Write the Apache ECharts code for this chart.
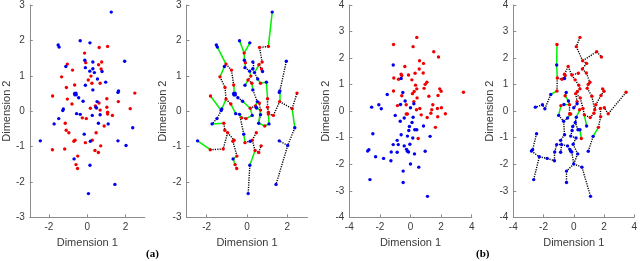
<!DOCTYPE html>
<html><head><meta charset="utf-8">
<script src="https://cdn.jsdelivr.net/npm/echarts@6/dist/echarts.min.js"></script>
<style>html,body{margin:0;padding:0;background:#fff}#c{width:640px;height:261px}</style>
</head><body><div id="c"></div>
<script>
// ---------- dataset (a) ----------
const blueA = [
 [1.25,2.80],[-1.52,1.87],[-1.47,1.81],[-0.37,1.99],[0.14,1.93],[1.95,1.41],[-0.13,1.44],[0.29,1.39],
 [-1.12,1.26],[-0.10,1.23],[0.29,1.20],[0.13,1.13],[0.77,1.12],[0.37,1.09],[0.53,0.91],[0.96,0.82],
 [-0.10,0.73],[0.29,0.60],[1.60,0.53],[1.63,0.57],[-0.66,0.50],[-0.59,0.51],[-0.58,0.46],[-0.65,0.46],
 [-0.45,0.38],[-0.22,0.28],[0.51,0.27],[-1.28,0.02],[-1.25,0.06],[0.45,0.11],[0.48,0.09],[-0.56,-0.07],
 [-0.37,-0.09],[0.26,-0.12],[0.67,-0.10],[-1.49,-0.21],[-1.73,-0.36],[0.58,-0.34],[1.09,-0.36],[2.37,-0.47],
 [-2.45,-0.84],[-0.16,-0.65],[0.16,-0.85],[1.60,-0.84],[2.02,-0.97],[-0.69,-1.35],[0.14,-1.53],[1.44,-2.07],
 [0.06,-2.33]
];
const redA = [
 [1.06,1.83],[0.62,1.80],[-0.14,1.64],[0.75,1.39],[-0.08,1.37],[-1.04,1.33],[0.59,1.31],[0.72,1.19],
 [-0.77,1.16],[-1.34,0.97],[0.19,0.99],[0.05,0.88],[0.24,0.79],[0.67,0.79],[-0.66,0.74],[-1.09,0.67],
 [-1.81,0.43],[2.48,0.51],[-1.04,0.34],[1.02,0.35],[1.62,0.27],[-0.80,0.20],[0.61,0.23],[0.42,0.15],
 [0.16,0.08],[1.02,0.11],[2.24,0.07],[0.67,0.03],[1.06,-0.03],[1.06,-0.08],[1.31,-0.12],[-0.26,-0.19],
 [-0.05,-0.21],[-1.15,-0.34],[0.88,-0.42],[-1.10,-0.54],[-0.96,-0.61],[0.46,-0.61],[0.26,-0.82],[-0.64,-0.82],
 [-0.70,-0.85],[-0.10,-0.89],[0.70,-0.98],[-1.82,-1.09],[-1.18,-1.07],[0.40,-1.11],[0.58,-1.17],[-0.50,-1.27],
 [-0.59,-1.51],[-0.51,-1.62]
];
const edgesA = [
 'B0-R0','R0-R1','R1-R3','R3-R6','R6-R7','R7-B12','R6-B13','B13-B10','B10-B7','B3-R2','B4-R2','R2-B6',
 'B6-R4','R4-B9','B9-B11','B11-B10','B13-B14','B14-R13','R13-B15','R10-B11','R10-R11','R11-R12','R11-B16',
 'R12-B17','B17-B26','B26-R23','R23-R24','R23-B29','B29-B30','B30-R27','R27-R22','R27-B37','B37-R34',
 'R34-B38','B38-R29','R29-R28','R28-R25','R25-R19','R19-B15','R29-R30','R30-R20','R20-B18','B18-B19',
 'B19-B5','R20-R26','R26-R17','R26-B39','B39-B44','B44-B43','B44-B47','B2-B1','B2-R5','R5-R8','R5-B8',
 'B8-R9','R9-R15','R15-R18','R18-B28','B28-B27','B27-R16','B27-B35','B35-B36','B36-R33','R33-R35',
 'R35-R36','R36-R44','R44-R43','R43-B40','R36-R39','R39-R40','R40-R47','R47-B45','B45-R48','R48-R49',
 'R18-R21','R21-B31','B31-B32','B32-R31','R31-R32','R32-B33','B33-R24','R14-B20','B20-B21','B21-B22',
 'B22-B23','B22-B24','B24-B25','R8-R14','B32-B41','B41-R41','R41-R38','R38-B42','R38-R37','R38-R45',
 'R45-R46','R46-R42','R45-B46','B46-B48','B34-B37','B25-R24'
];
// ---------- dataset (b) ----------
const blueB = [
 [-1.13,1.74],[-0.61,1.23],[-1.52,0.63],[-0.50,0.70],[-0.35,0.38],[-2.54,0.15],[-2.07,0.24],[-1.91,0.09],
 [-0.65,0.25],[0.22,0.28],[0.00,0.13],[-1.00,-0.16],[-0.41,-0.26],[-0.67,-0.38],[0.17,-0.23],[0.10,-0.43],
 [-0.07,-0.58],[0.85,-0.56],[0.28,-0.70],[0.41,-0.70],[-0.11,-0.73],[-2.46,-0.85],[-0.61,-0.89],[-0.20,-0.94],
 [0.15,-1.01],[1.28,-0.95],[-0.87,-1.10],[-0.04,-1.25],[-1.13,-1.26],[-0.80,-1.26],[-0.41,-1.31],[-0.26,-1.44],
 [-0.20,-1.51],[-1.26,-1.54],[-0.87,-1.55],[-0.13,-1.54],[0.26,-1.61],[0.96,-1.51],[-2.72,-1.45],[-2.80,-1.50],
 [-2.28,-1.72],[-1.76,-1.78],[-1.28,-1.87],[0.00,-1.99],[-0.48,-2.26],[0.54,-2.11],[-2.65,-2.58],[-0.48,-2.69],
 [1.11,-3.21]
];
const redB = [
 [0.41,2.78],[-1.11,2.51],[0.17,2.43],[1.52,2.24],[1.83,2.04],[0.59,1.90],[0.85,1.80],[-0.37,1.68],
 [0.57,1.59],[0.83,1.44],[0.30,1.43],[-0.61,1.39],[-0.57,1.34],[-0.13,1.36],[-1.09,1.25],[-0.78,1.20],
 [0.09,1.18],[1.07,1.09],[0.96,1.01],[0.33,0.98],[0.89,0.86],[1.91,0.84],[2.00,0.75],[0.41,0.84],
 [-1.11,0.76],[3.46,0.71],[0.24,0.74],[0.13,0.66],[1.20,0.56],[1.80,0.59],[0.43,0.50],[-0.57,0.58],
 [0.22,0.36],[-0.85,0.21],[1.46,0.24],[-0.28,0.24],[1.76,0.10],[0.61,0.10],[0.39,0.05],[1.39,0.05],
 [2.02,0.13],[-0.28,-0.11],[-0.20,-0.11],[2.28,-0.10],[1.33,-0.08],[0.70,-0.14],[1.09,-0.24],[1.78,-0.21],
 [1.63,-0.61],[0.50,-1.03]
];
const edgesB = [
 'R1-B0','B0-R14','R14-R15','R15-B1','R14-R24','R24-B2','B2-B7','B7-B6','B6-B5','R0-R2','R2-R5','R5-R3',
 'R3-R4','R5-R6','R6-R8','R8-R9','R9-R17','R17-R18','R18-R20','R20-R28','R7-R13','R13-R16','R16-R19',
 'R19-R23','R23-R26','R26-R27','R27-R32','R32-B9','R7-R11','R11-R12','R12-R15','R10-R13','R21-R22',
 'R22-R29','R29-R34','R34-R39','R39-R44','R44-R46','R25-R43','R43-R40','R40-R36','R36-R47','R47-R48',
 'R48-B25','B25-B37','R28-R39','R37-R45','R38-R37','R45-B17','R46-R45','R38-B14','R31-B3','R31-B4',
 'B4-R35','R35-B8','R35-R41','R41-R42','R42-B12','R33-B11','B11-B13','B13-B12','B13-B22','B14-B15',
 'B15-B16','B16-B20','B18-B19','B18-B15','B20-B23','B23-B24','B24-B27','B27-B36','B36-B43','B35-B43',
 'B43-B45','B45-B48','B43-B44','B44-B47','B22-B26','B26-B29','B29-B34','B29-B30','B30-B31','B31-B32',
 'B32-B35','B42-B33','B33-B28','B28-B29','B21-B38','B38-B39','B39-B40','B40-B41','B41-B42','B46-B40',
 'R49-B19','B9-B10','R30-R27','R37-R30'
];
// ---------- ticks ----------
const xTicksA = [-2,0,2];
const yTicksA = [-3,-2,-1,0,1,2,3];
const xTicksB = [-4,-2,0,2,4];
const yTicksB = [-4,-3,-2,-1,0,1,2,3,4];
const xLabel = 'Dimension 1', yLabel = 'Dimension 2';
const panelTags = ['(a)','(b)'];

const AX = '#8c8c8c', TX = '#3a3a3a', FONT = 'Liberation Sans, Arial, Helvetica, sans-serif';
const grids = [
 {left:21.8, top:4, width:123, height:213.3},
 {left:186.5, top:4, width:121, height:213.3},
 {left:349.3, top:4, width:122.4, height:213.3},
 {left:513.3, top:4, width:123.4, height:213.3}
];
function xAx(gi, lim, ticks, gap){
  return {type:'value', gridIndex:gi, min:-lim, max:lim,
    axisLine:{show:true, onZero:false, lineStyle:{color:AX, width:1}},
    axisTick:{show:true, inside:true, length:3, customValues:ticks, lineStyle:{color:AX}},
    axisLabel:{customValues:ticks, color:TX, fontSize:10, margin:5, fontFamily:FONT},
    splitLine:{show:false},
    name:xLabel, nameLocation:'middle', nameGap:gap,
    nameTextStyle:{color:TX, fontSize:11, fontFamily:FONT}};
}
function yAx(gi, lim, ticks, gap){
  return {type:'value', gridIndex:gi, min:-lim, max:lim, interval:1,
    axisLine:{show:true, onZero:false, lineStyle:{color:AX, width:1}},
    axisTick:{show:true, inside:true, length:3, lineStyle:{color:AX}},
    axisLabel:{color:TX, fontSize:10, margin:5, fontFamily:FONT},
    splitLine:{show:false},
    name:yLabel, nameLocation:'middle', nameGap:gap,
    nameTextStyle:{color:TX, fontSize:11, fontFamily:FONT}};
}
function pt(id, blue, red){ return (id[0]==='B'?blue:red)[+id.slice(1)]; }
function edgeSeries(gi, edges, blue, red){
  const green=[], black=[];
  edges.forEach(e=>{
    const [a,b]=e.split('-');
    const item={coords:[pt(a,blue,red), pt(b,blue,red)]};
    (a[0]===b[0]?black:green).push(item);
  });
  return [
    {type:'lines', coordinateSystem:'cartesian2d', xAxisIndex:gi, yAxisIndex:gi, data:black, z:2,
     lineStyle:{color:'#000', width:1.4, type:[1.2,1.2], opacity:1}},
    {type:'lines', coordinateSystem:'cartesian2d', xAxisIndex:gi, yAxisIndex:gi, data:green, z:2,
     lineStyle:{color:'#00f000', width:1.5, type:'solid', opacity:1}}
  ];
}
function dots(gi, data, color){
  return {type:'scatter', xAxisIndex:gi, yAxisIndex:gi, data:data, symbolSize:3.4, z:5,
    itemStyle:{color:color, opacity:1}};
}
const series = [
  dots(0, redA, '#f00000'), dots(0, blueA, '#0000f0'),
  ...edgeSeries(1, edgesA, blueA, redA), dots(1, redA, '#f00000'), dots(1, blueA, '#0000f0'),
  dots(2, redB, '#f00000'), dots(2, blueB, '#0000f0'),
  ...edgeSeries(3, edgesB, blueB, redB), dots(3, redB, '#f00000'), dots(3, blueB, '#0000f0')
];
const chart = echarts.init(document.getElementById('c'), null, {renderer:'canvas'});
chart.setOption({
  animation:false, backgroundColor:'#fff',
  grid:grids,
  xAxis:[xAx(0,3,xTicksA,15), xAx(1,3,xTicksA,15), xAx(2,4,xTicksB,15), xAx(3,4,xTicksB,15)],
  yAxis:[yAx(0,3,yTicksA,12), yAx(1,3,yTicksA,9), yAx(2,4,yTicksB,14), yAx(3,4,yTicksB,14)],
  series:series,
  graphic:[
    {type:'text', left:146, top:249, style:{text:panelTags[0], font:'bold 11px "Liberation Serif", "Times New Roman", serif', fill:'#000'}},
    {type:'text', left:476, top:249, style:{text:panelTags[1], font:'bold 11px "Liberation Serif", "Times New Roman", serif', fill:'#000'}}
  ]
});
</script></body></html>
